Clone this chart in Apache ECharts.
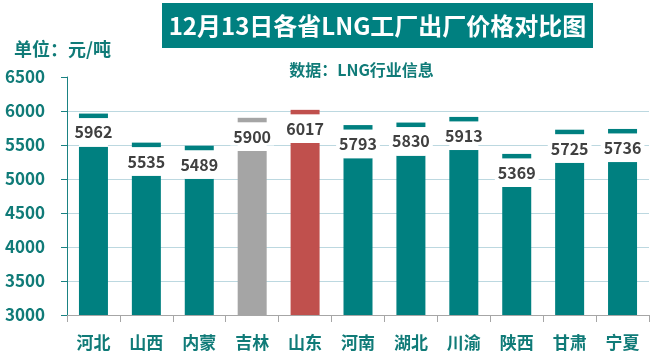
<!DOCTYPE html>
<html>
<head>
<meta charset="utf-8">
<script src="https://cdn.jsdelivr.net/npm/echarts@6/dist/echarts.min.js"></script>
<style>html,body{margin:0;padding:0;background:#fff;}#c{width:658px;height:361px;}</style>
</head>
<body>
<div id="c"></div>
<script>
var categories = ['河北','山西','内蒙','吉林','山东','河南','湖北','川渝','陕西','甘肃','宁夏'];
var values = [5962,5535,5489,5900,6017,5793,5830,5913,5369,5725,5736];
var yTicks = [3000,3500,4000,4500,5000,5500,6000,6500];

var TEAL = '#008080', GRAY = '#a5a5a5', RED = '#c0504d';
var barColors = categories.map(function(c){ return c === '吉林' ? GRAY : (c === '山东' ? RED : TEAL); });
var CAP = 66, GAP = 421;
var FONT = '"Noto Sans CJK SC", "Noto Sans", sans-serif';
var LABEL_TEAL = '#107b78';

var chart = echarts.init(document.getElementById('c'), null, {renderer:'canvas'});
chart.setOption({
  animation: false,
  textStyle: {fontFamily: FONT},
  grid: {left: 67, right: 9, top: 77, bottom: 46, containLabel: false},
  graphic: [
    {type:'rect', shape:{x:162, y:3, width:431, height:45}, style:{fill: TEAL}},
    {type:'text', x:377.5, y:25.5, style:{text:'12月13日各省LNG工厂出厂价格对比图', fill:'#fff', font:'bold 24px ' + FONT, textAlign:'center', textVerticalAlign:'middle'}},
    {type:'text', x:14, y:49.5, style:{text:'单位：元/吨', fill: LABEL_TEAL, font:'bold 18px ' + FONT, textAlign:'left', textVerticalAlign:'middle'}},
    {type:'text', x:361.5, y:70, style:{text:'数据：LNG行业信息', fill: LABEL_TEAL, font:'bold 16px ' + FONT, textAlign:'center', textVerticalAlign:'middle'}}
  ],
  xAxis: {
    type: 'category',
    data: categories,
    axisLine: {show: true, lineStyle: {color: '#a6a6a6', width: 1}},
    axisTick: {show: true, length: 7, lineStyle: {color: '#a6a6a6'}},
    axisLabel: {color: LABEL_TEAL, fontSize: 17, fontWeight: 'bold', margin: 19, fontFamily: FONT},
    splitLine: {show: false}
  },
  yAxis: {
    type: 'value',
    min: yTicks[0], max: yTicks[yTicks.length-1], interval: 500,
    axisLine: {show: true, lineStyle: {color: '#1a8282', width: 1}},
    axisTick: {show: true, length: 6, lineStyle: {color: '#1a8282'}},
    axisLabel: {color: LABEL_TEAL, fontSize: 17, fontWeight: 'bold', margin: 22, fontFamily: FONT,
      formatter: function(v){ return String(v); }},
    splitLine: {show: true, lineStyle: {color: ['#bcd8e0','#bcd8e0','#bcd8e0','#bcd8e0','#bcd8e0','#bcd8e0','#bcd8e0','rgba(0,0,0,0)'], width: 1}}
  },
  series: [
    {
      type: 'bar', stack: 'a', barWidth: 29, silent: true,
      data: values.map(function(v, i){ return {value: v - CAP - GAP, itemStyle: {color: barColors[i]}}; })
    },
    {
      type: 'bar', stack: 'a', barWidth: 29, silent: true,
      itemStyle: {color: '#ffffff'},
      data: values.map(function(){ return GAP; }),
      label: {
        show: true, position: 'inside',
        formatter: function(p){ return String(values[p.dataIndex]); },
        color: '#404040', fontSize: 16, fontWeight: 'bold', fontFamily: FONT,
        backgroundColor: '#ffffff', padding: [1, 3]
      }
    },
    {
      type: 'bar', stack: 'a', barWidth: 29, silent: true,
      data: values.map(function(v, i){ return {value: CAP, itemStyle: {color: barColors[i]}}; })
    }
  ]
});
</script>
</body>
</html>
